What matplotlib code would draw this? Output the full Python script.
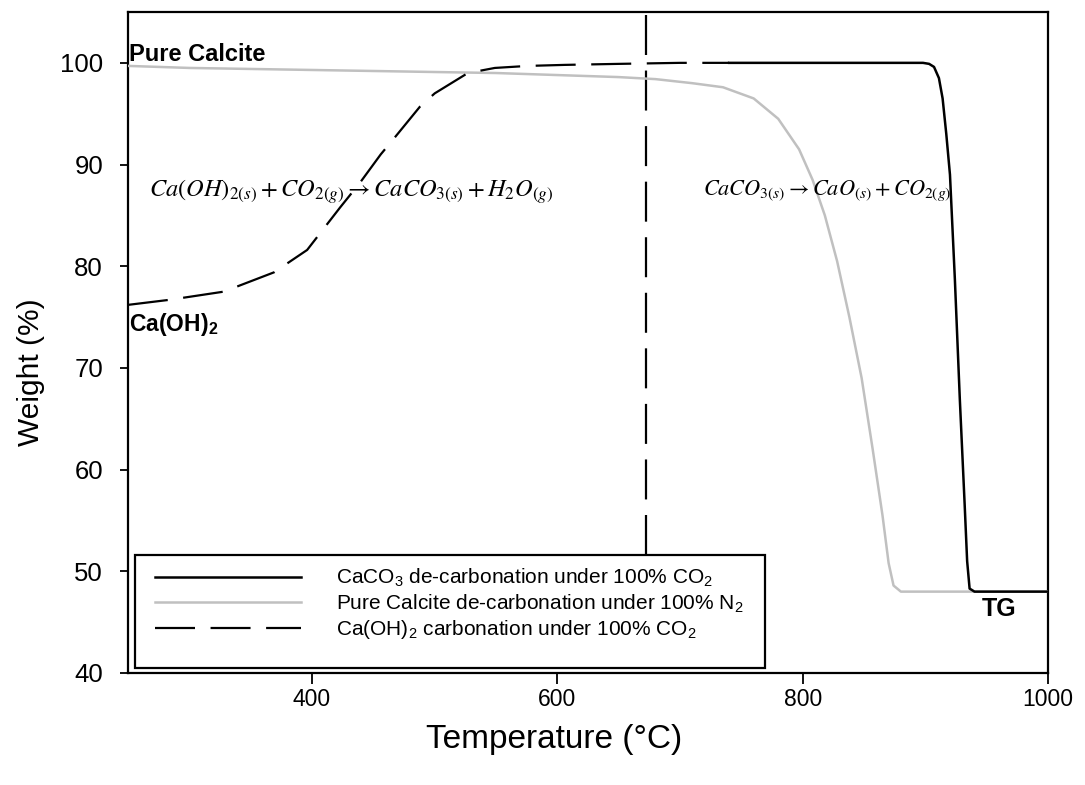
import matplotlib
matplotlib.use("Agg")
import matplotlib.pyplot as plt
from matplotlib.patches import Rectangle

plt.rcParams["font.family"] = ["Liberation Sans", "DejaVu Sans"]
plt.rcParams["mathtext.fontset"] = "custom"
plt.rcParams["mathtext.rm"] = "Liberation Sans"
plt.rcParams["mathtext.it"] = "Liberation Sans:italic"
plt.rcParams["mathtext.bf"] = "Liberation Sans:bold"

# Ca(OH)2 carbonation under 100% CO2 (dashed)
carb_T = [250, 284, 328, 369, 396, 423, 439, 456, 467, 488, 500, 527, 549, 576, 606, 650, 700, 740]
carb_W = [76.2, 76.7, 77.5, 79.4, 81.6, 85.8, 88.2, 91.0, 92.6, 95.7, 97.0, 99.0, 99.5, 99.7, 99.8, 99.9, 100.0, 100.0]

# pure calcite de-carbonation under N2 (grey)
calc_T = [250, 300, 350, 400, 450, 500, 550, 600, 650, 680, 710, 735, 760, 780, 797, 808,
          818, 828, 838, 848, 857, 865, 870, 874, 880, 950, 1000]
calc_W = [99.7, 99.5, 99.4, 99.3, 99.2, 99.1, 99.0, 98.8, 98.6, 98.4, 98.0, 97.6, 96.5, 94.5, 91.5, 88.5,
          85.0, 80.5, 75.0, 69.0, 62.0, 55.5, 50.8, 48.6, 48.0, 48.0, 48.0]

# CaCO3 de-carbonation under CO2 (black)
co2_T = [740, 800, 850, 880, 898, 903, 907, 911, 914, 917, 920, 924, 928, 932, 934, 936, 940, 1000]
co2_W = [100, 100, 100, 100, 100, 99.9, 99.6, 98.5, 96.5, 93.0, 89.0, 78.7, 67.0, 56.5, 51.0, 48.3, 48.0, 48.0]

split_T = 672

legend_labels = [
    "CaCO$_{3}$ de-carbonation under 100% CO$_{2}$",
    "Pure Calcite de-carbonation under 100% N$_{2}$",
    "Ca(OH)$_{2}$ carbonation under 100% CO$_{2}$",
]

fig = plt.figure(figsize=(10.85, 7.85), dpi=100)
ax = fig.add_axes([0.118, 0.1427, 0.848, 0.842])

dash = (0, (18, 7))
h1, = ax.plot(co2_T, co2_W, color="black", lw=1.8, zorder=4)
h2, = ax.plot(calc_T, calc_W, color="#c0c0c0", lw=1.8, zorder=3)
h3, = ax.plot(carb_T, carb_W, color="black", lw=1.6, linestyle=dash, zorder=4)
# vertical divider stops at the legend box
ax.axvline(split_T, ymin=0.178, ymax=1, color="black", lw=1.6, linestyle=dash, zorder=2)

ax.set_xlim(250, 1000)
ax.set_ylim(40, 105)
ax.set_xticks([400, 600, 800, 1000])
ax.set_yticks([40, 50, 60, 70, 80, 90, 100])
ax.tick_params(axis="both", direction="out", width=1.3, top=False, right=False)
ax.tick_params(axis="x", length=8, pad=3, labelsize=16.5)
ax.tick_params(axis="y", length=6, pad=12, labelsize=18.5)
for sp in ax.spines.values():
    sp.set_linewidth(1.6)

ax.set_xlabel("Temperature (\u00b0C)", fontsize=24, va="center")
ax.xaxis.set_label_coords(0.463, -0.101)
ax.set_ylabel("Weight (%)", fontsize=21.5, va="center")
ax.yaxis.set_label_coords(-0.105, 0.455)

# annotations
ax.text(251, 100.2, "Pure Calcite", fontsize=17, fontweight="bold", va="baseline", ha="left")
ax.text(251, 75.6, r"Ca(OH)$_{\mathbf{2}}$", fontsize=16.5, fontweight="bold", va="top", ha="left")
ax.text(960, 47.5, "TG", fontsize=18, fontweight="bold", va="top", ha="center")

ax.text(267, 86.8, r"$Ca(OH)_{2(s)}+CO_{2(g)}\rightarrow CaCO_{3(s)}+H_2O_{(g)}$",
        fontsize=17.6, math_fontfamily="stix", va="baseline", ha="left", zorder=5)
ax.text(718.6, 87.0, r"$CaCO_{3(s)}\rightarrow CaO_{(s)}+CO_{2(g)}$",
        fontsize=16, math_fontfamily="stix", va="baseline", ha="left", zorder=5)

# legend box drawn separately so the entries can sit high inside it
box = Rectangle((0.0076, 0.0076), 0.685, 0.171, transform=ax.transAxes,
                facecolor="white", edgecolor="black", lw=1.6, zorder=9)
ax.add_patch(box)
leg = ax.legend([h1, h2, h3], legend_labels, loc="upper left",
                bbox_to_anchor=(0.0163, 0.1786), borderaxespad=0, fontsize=15,
                handlelength=7.0, handletextpad=1.7, labelspacing=0.15,
                borderpad=0.58, frameon=False)
leg.set_zorder(10)

fig.savefig("out.png", dpi=100)
